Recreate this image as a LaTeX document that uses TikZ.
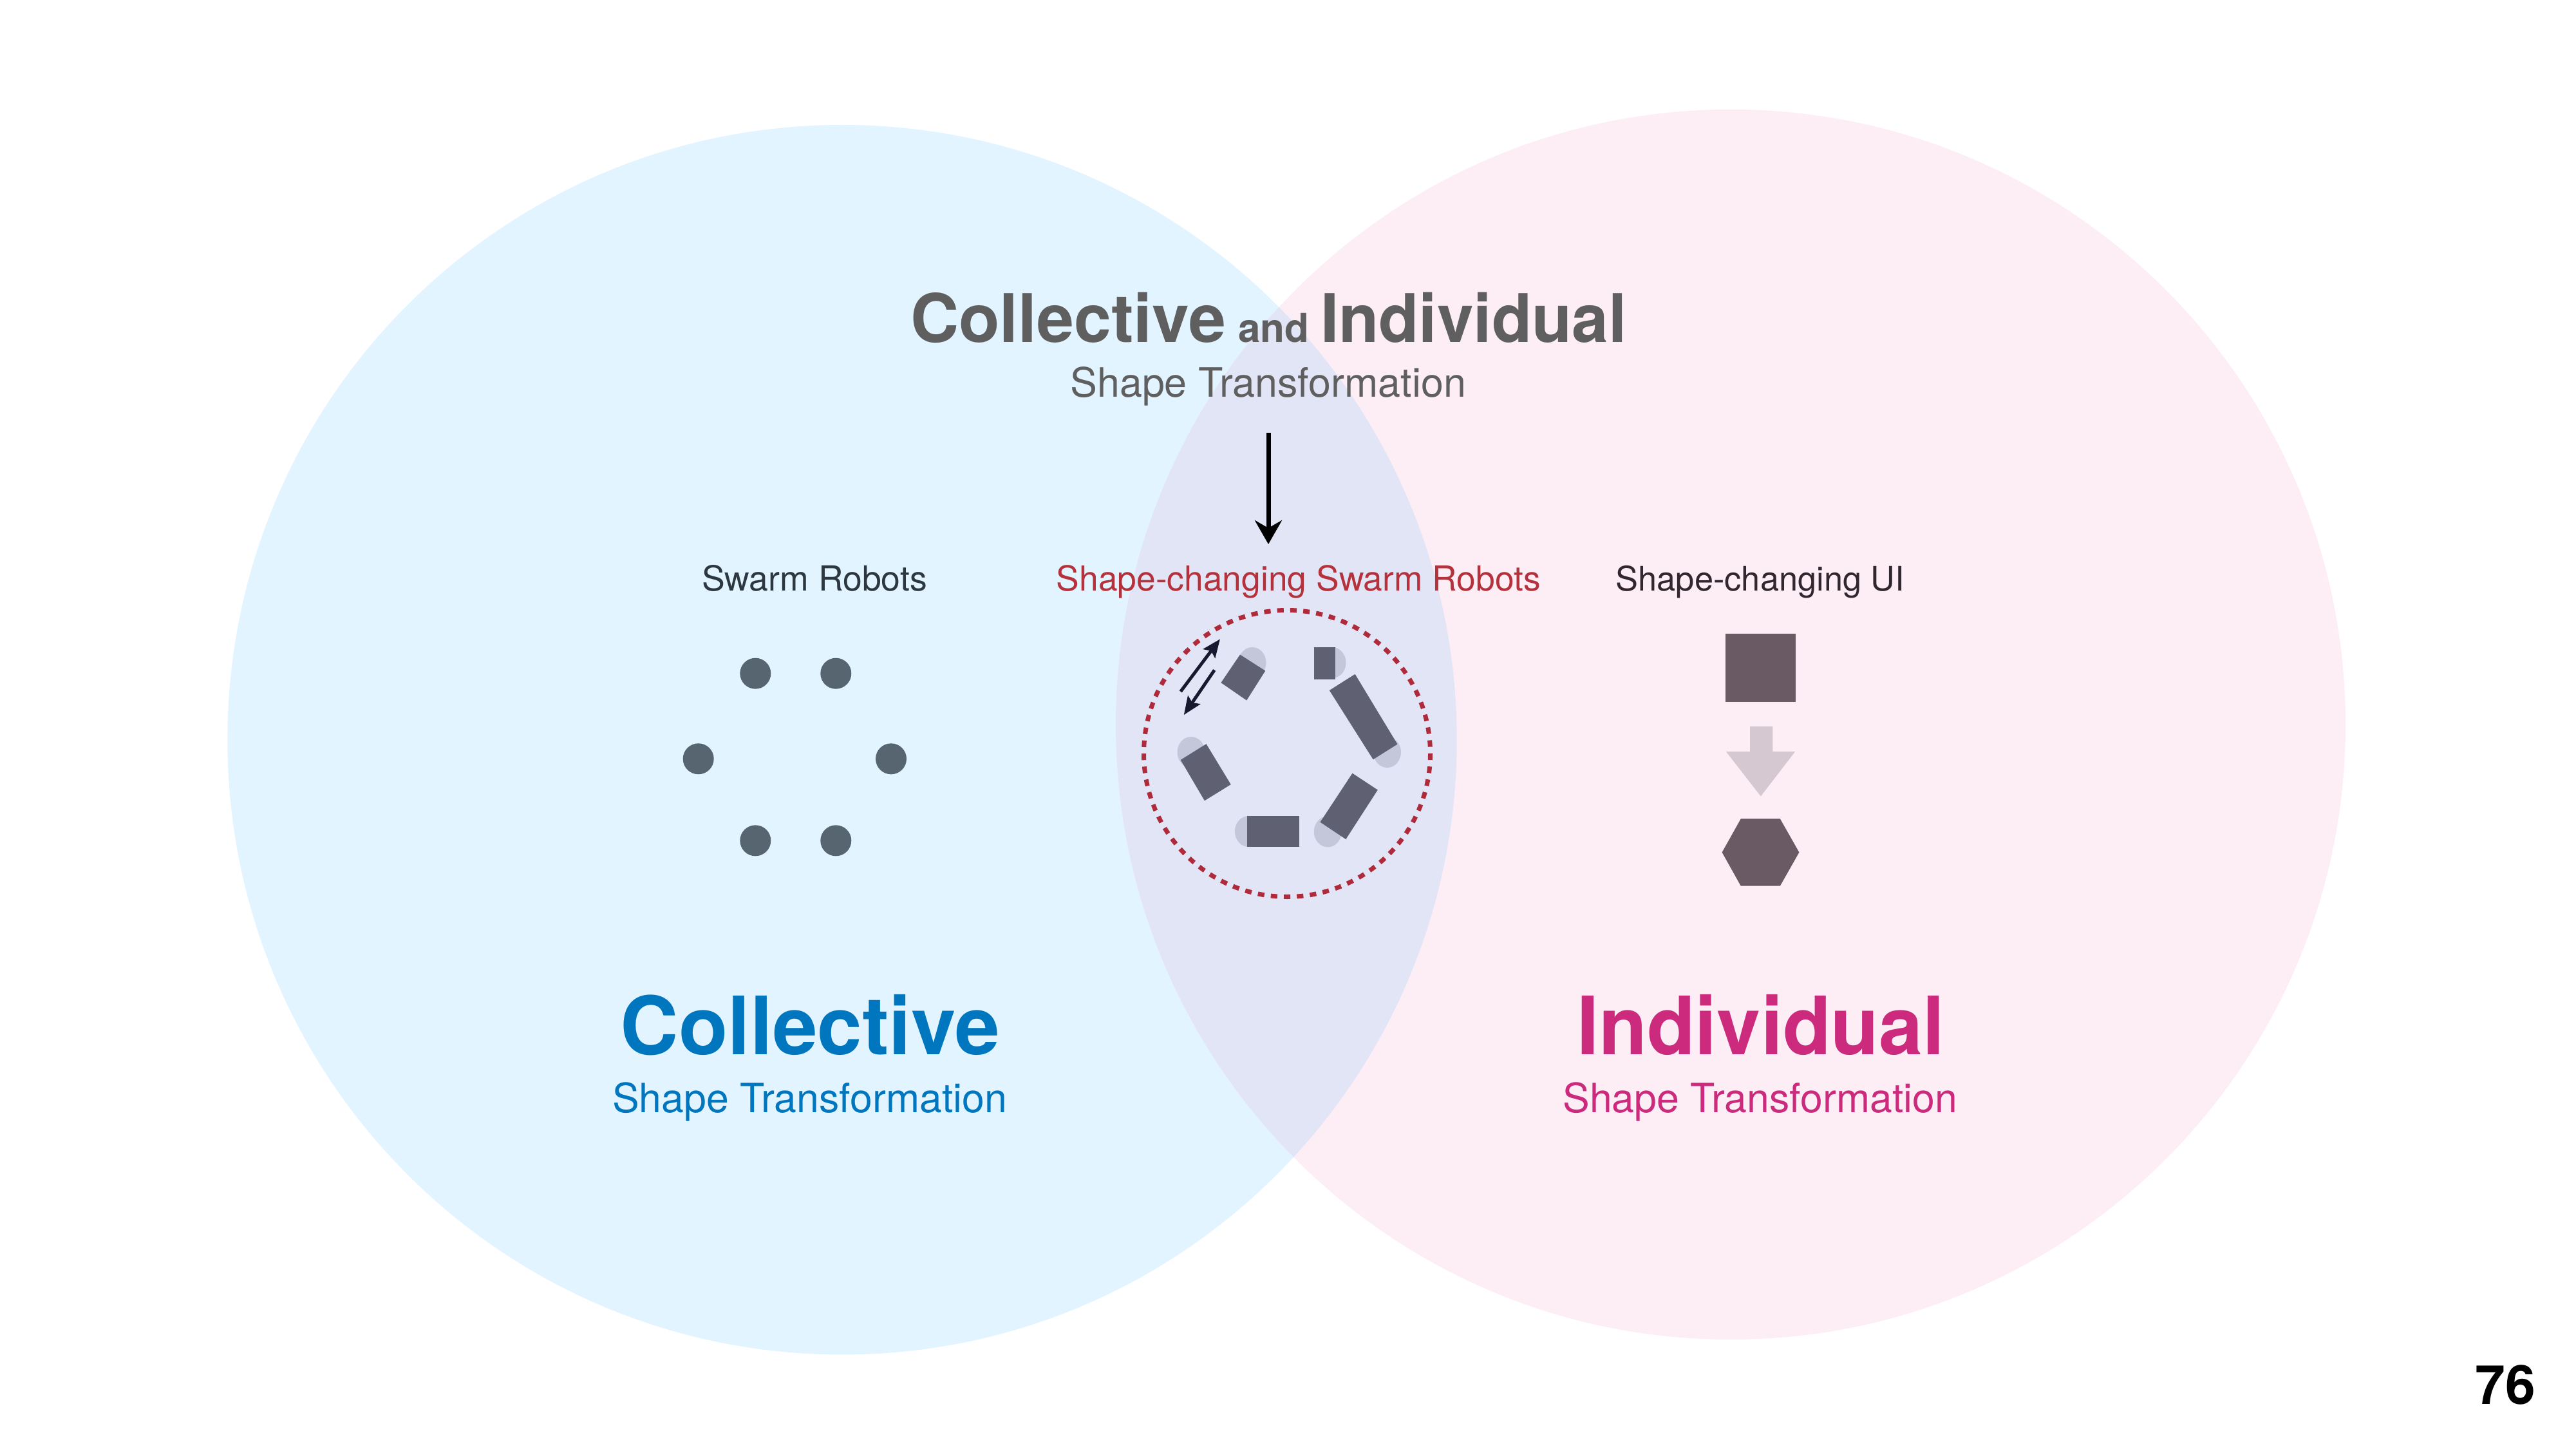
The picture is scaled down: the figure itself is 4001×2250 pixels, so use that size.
\documentclass[tikz,border=0pt]{standalone}
\usepackage{fontspec}
\setmainfont{TeX Gyre Heros}
\usetikzlibrary{arrows.meta}
\definecolor{bgL}{HTML}{E2F4FF}
\definecolor{bgR}{HTML}{FDEEF6}
\definecolor{bgM}{HTML}{E2E5F6}
\definecolor{titlegrey}{HTML}{5F5F5F}
\definecolor{blueT}{HTML}{0076BE}
\definecolor{pinkT}{HTML}{CC2A7C}
\definecolor{redT}{HTML}{B5323C}
\definecolor{ringc}{HTML}{AF2B3C}
\definecolor{lblA}{HTML}{2C3740}
\definecolor{lblC}{HTML}{33272F}
\definecolor{dotc}{HTML}{566570}
\definecolor{botc}{HTML}{5F6172}
\definecolor{capc}{HTML}{C4C6D9}
\definecolor{uic}{HTML}{6A5A63}
\definecolor{uia}{HTML}{D6C8D0}
\definecolor{inkc}{HTML}{151A30}
\tikzset{
  x=1pt,y=-1pt,
  txt/.style={inner sep=0pt,outer sep=0pt,anchor=base},
  txtw/.style={inner sep=0pt,outer sep=0pt,anchor=base west},
  botbody/.style={fill=botc,draw=none},
  botcap/.style={fill=capc,draw=none},
  swarmdot/.style={circle,fill=dotc,draw=none,minimum size=48pt,inner sep=0pt},
  smallarrow/.style={inkc,line width=5pt,-{Stealth[length=28pt,width=23pt,inset=5pt]}},
}
\newcommand{\fs}[1]{\fontsize{#1pt}{#1pt}\selectfont}
\newcommand{\hs}[2]{\scalebox{#1}[1]{#2}}
\begin{document}
\begin{tikzpicture}
\useasboundingbox (0,0) rectangle (4001,2250);
\fill[white] (0,0) rectangle (4001,2250);
\fill[bgL] (1308,1148.7) circle[radius=954.7];
\fill[bgR] (2688,1125) circle[radius=955];
\begin{scope}
\clip (1308,1148.7) circle[radius=954.7];
\fill[bgM] (2688,1125) circle[radius=955];
\end{scope}
% title
\node[txtw,text=titlegrey] (t1) at (1414,531) {\fs{104}\bfseries Collective};
\node[txtw,text=titlegrey] (t2) at (1923,531) {\fs{62}\bfseries and};
\node[txtw,text=titlegrey] (t3) at (2051,531) {\hs{0.98}{\fs{104}\bfseries Individual}};
\node[txt,text=titlegrey] (t4) at (1969.6,616) {\fs{62.8}Shape Transformation};
% arrow
\coordinate (a1) at (1970,672);
\coordinate (a2) at (1970,845);
\draw[line width=7pt,black,-{Stealth[length=37pt,width=42pt,inset=12pt]}] (a1) -- (a2);
% labels
\node[txt,text=lblA] (s1) at (1265,917) {\fs{53.6}Swarm Robots};
\node[txt,text=redT] (s2) at (2016.7,917) {\fs{53.4}Shape-changing Swarm Robots};
\node[txt,text=lblC] (s3) at (2734,917) {\fs{52.4}Shape-changing UI};
% swarm dots
\node[swarmdot] (d1) at (1173.3,1045.7) {};
\node[swarmdot] (d2) at (1298.3,1045.7) {};
\node[swarmdot] (d3) at (1084.7,1178.3) {};
\node[swarmdot] (d4) at (1384,1178.3) {};
\node[swarmdot] (d5) at (1173.3,1305.3) {};
\node[swarmdot] (d6) at (1298.3,1305.3) {};
% dashed ring
\draw[ringc,line width=7pt,dash pattern=on 10.13pt off 10.13pt] (1999,1170) circle[radius=222.5];
% robots
\fill[botcap] (1945,1029) ellipse[x radius=21.5,y radius=24];
\fill[botcap] (2069,1029) ellipse[x radius=21.5,y radius=24];
\fill[botcap] (2154.5,1168) ellipse[x radius=21.5,y radius=24];
\fill[botcap] (2062.3,1291.4) ellipse[x radius=21.5,y radius=24];
\fill[botcap] (1939.4,1291) ellipse[x radius=21.5,y radius=24];
\fill[botcap] (1850,1168) ellipse[x radius=21.5,y radius=24];
\fill[botbody] (1926,1016.5) -- (1965.3,1041.6) -- (1936.2,1087.5) -- (1896.4,1060.1) -- cycle;
\fill[botbody] (2040.8,1004.6) rectangle (2074,1054.6);
\fill[botbody] (2104.6,1046.8) -- (2064.8,1072) -- (2132.7,1179.3) -- (2170.4,1155.6) -- cycle;
\fill[botbody] (2100.5,1200.7) -- (2139.8,1226.6) -- (2090.3,1303.2) -- (2050.5,1276.6) -- cycle;
\fill[botbody] (1937.2,1267) rectangle (2017.9,1315);
\fill[botbody] (1873.5,1155.2) -- (1911.7,1218.1) -- (1870.9,1243.3) -- (1833.7,1180) -- cycle;
\coordinate (m1) at (1833.7,1073.8);
\coordinate (m2) at (1894.9,992.4);
\coordinate (m3) at (1886.2,1040.5);
\coordinate (m4) at (1838.8,1110);
\draw[smallarrow] (m1) -- (m2);
\draw[smallarrow] (m3) -- (m4);
% UI
\fill[uic] (2680.4,984) rectangle (2788.5,1090);
\fill[uia] (2718,1128) -- (2753.4,1128) -- (2753.4,1167) -- (2788.2,1167) -- (2734.8,1236.4) -- (2680.8,1167) -- (2718,1167) -- cycle;
\fill[uic] (2703.8,1271.4) -- (2764.8,1271.4) -- (2794.4,1323.5) -- (2764.8,1375.7) -- (2703.8,1375.7) -- (2674.6,1323.5) -- cycle;
% bottom labels
\node[txt,text=blueT] (c1) at (1258.2,1637) {\fs{125}\bfseries Collective};
\node[txt,text=blueT] (c2) at (1257.5,1727.3) {\fs{62.6}Shape Transformation};
\node[txt,text=pinkT] (i1) at (2735,1637) {\hs{0.98}{\fs{125}\bfseries Individual}};
\node[txt,text=pinkT] (i2) at (2733.7,1727.3) {\fs{62.6}Shape Transformation};
\node[txt,text=black] (pg) at (3891,2180.7) {\fs{84}\bfseries 76};
\end{tikzpicture}
\end{document}
